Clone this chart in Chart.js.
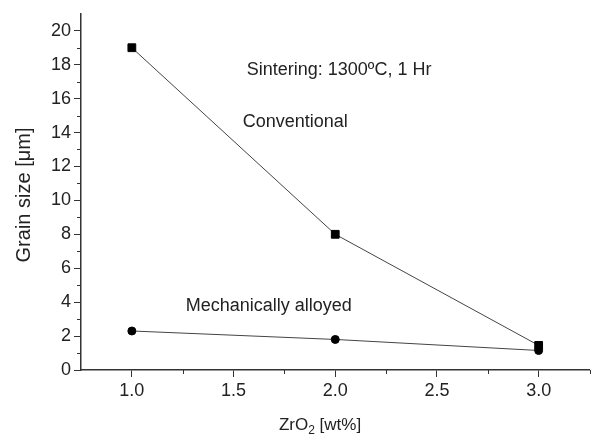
<!DOCTYPE html>
<html>
<head>
<meta charset="utf-8">
<script src="https://cdn.jsdelivr.net/npm/chart.js@4/dist/chart.umd.min.js"></script>
<style>
  html, body { margin: 0; padding: 0; background: #fff; }
  #wrap { width: 596px; height: 439px; position: relative; }
</style>
</head>
<body>
<div id="wrap"><canvas id="grain"></canvas></div>
<script>
// Data
const zrO2 = [1.0, 2.0, 3.0];                 // wt%
const conventional = [19.0, 8.0, 1.45];       // grain size, um
const mechAlloyed = [2.3, 1.8, 1.15];         // grain size, um

const xTicks = [1.0, 1.5, 2.0, 2.5, 3.0];
const yTicks = [0, 2, 4, 6, 8, 10, 12, 14, 16, 18, 20];
const xMinor = [1.25, 1.75, 2.25, 2.75, 3.25];
const yMinor = [1, 3, 5, 7, 9, 11, 13, 15, 17, 19];

// Text labels placed in data coordinates
const notes = [
  { text: 'Sintering: 1300\u00BAC, 1 Hr', x: 1.565, y: 17.4 },
  { text: 'Conventional', x: 1.545, y: 14.35 },
  { text: 'Mechanically alloyed', x: 1.265, y: 3.5 }
];

const FONT = '"Liberation Sans", Arial, sans-serif';
const INK = '#222';

function toPoints(xs, ys) {
  return xs.map((x, i) => ({ x, y: ys[i] }));
}

// Minor ticks, axis titles and in-plot notes
const extras = {
  id: 'extras',
  afterDraw(chart) {
    const { ctx, scales: { x, y } } = chart;
    ctx.save();
    ctx.strokeStyle = '#333';
    ctx.lineWidth = 1;
    ctx.beginPath();
    for (const v of xMinor) {
      const px = Math.round(x.getPixelForValue(v)) + 0.5;
      ctx.moveTo(px, y.bottom);
      ctx.lineTo(px, y.bottom + 4);
    }
    for (const v of yMinor) {
      const py = Math.round(y.getPixelForValue(v)) + 0.5;
      ctx.moveTo(x.left, py);
      ctx.lineTo(x.left - 4, py);
    }
    ctx.stroke();

    ctx.fillStyle = INK;
    ctx.font = '18px ' + FONT;
    ctx.textBaseline = 'alphabetic';
    ctx.textAlign = 'left';
    for (const n of notes) {
      ctx.fillText(n.text, x.getPixelForValue(n.x), y.getPixelForValue(n.y));
    }

    // x title with real subscript
    ctx.font = '17px ' + FONT;
    const a = 'ZrO', b = '2', c = ' [wt%]';
    const subFont = '12px ' + FONT;
    const wa = ctx.measureText(a).width;
    const wc = ctx.measureText(c).width;
    ctx.font = subFont;
    const wb = ctx.measureText(b).width;
    let tx = 320 - (wa + wb + wc) / 2;
    const ty = 430;
    ctx.font = '17px ' + FONT;
    ctx.fillText(a, tx, ty);
    ctx.font = subFont;
    ctx.fillText(b, tx + wa, ty + 4);
    ctx.font = '17px ' + FONT;
    ctx.fillText(c, tx + wa + wb, ty);

    // y title
    ctx.translate(24, 195);
    ctx.rotate(-Math.PI / 2);
    ctx.textAlign = 'center';
    ctx.textBaseline = 'middle';
    ctx.font = '20px ' + FONT;
    ctx.fillText('Grain size [\u03BCm]', 0, 0);
    ctx.restore();
  }
};

new Chart(document.getElementById('grain'), {
  type: 'line',
  data: {
    datasets: [
      {
        label: 'Conventional',
        data: toPoints(zrO2, conventional),
        borderColor: '#444',
        borderWidth: 1,
        pointStyle: 'rect',
        pointRadius: 5.5,
        pointBorderWidth: 1,
        pointBackgroundColor: '#000',
        pointBorderColor: '#000',
        tension: 0
      },
      {
        label: 'Mechanically alloyed',
        data: toPoints(zrO2, mechAlloyed),
        borderColor: '#444',
        borderWidth: 1,
        pointStyle: 'circle',
        pointRadius: 4,
        pointBorderWidth: 1,
        pointBackgroundColor: '#000',
        pointBorderColor: '#000',
        tension: 0
      }
    ]
  },
  options: {
    responsive: true,
    maintainAspectRatio: false,
    animation: false,
    layout: { padding: { top: 7, right: 6, left: 0, bottom: 0 } },
    plugins: {
      legend: { display: false },
      tooltip: { enabled: false },
      title: { display: false }
    },
    scales: {
      x: {
        type: 'linear',
        min: 0.75,
        max: 3.25,
        afterBuildTicks: (s) => { s.ticks = xTicks.map(v => ({ value: v })); },
        afterFit: (s) => { s.height = 69; },
        border: { display: true, color: '#333', width: 1.5 },
        grid: { drawOnChartArea: false, drawTicks: true, tickLength: 7, color: '#333' },
        ticks: {
          padding: 3,
          color: INK,
          font: { family: FONT, size: 18 },
          callback: (v) => Number(v).toFixed(1)
        }
      },
      y: {
        type: 'linear',
        min: 0,
        max: 21,
        afterBuildTicks: (s) => { s.ticks = yTicks.map(v => ({ value: v })); },
        afterFit: (s) => { s.width = 81; },
        border: { display: true, color: '#333', width: 1.5 },
        grid: { drawOnChartArea: false, drawTicks: true, tickLength: 7, color: '#333' },
        ticks: {
          padding: 3,
          color: INK,
          font: { family: FONT, size: 18 },
          callback: (v) => String(v)
        }
      }
    }
  },
  plugins: [extras]
});
</script>
</body>
</html>
